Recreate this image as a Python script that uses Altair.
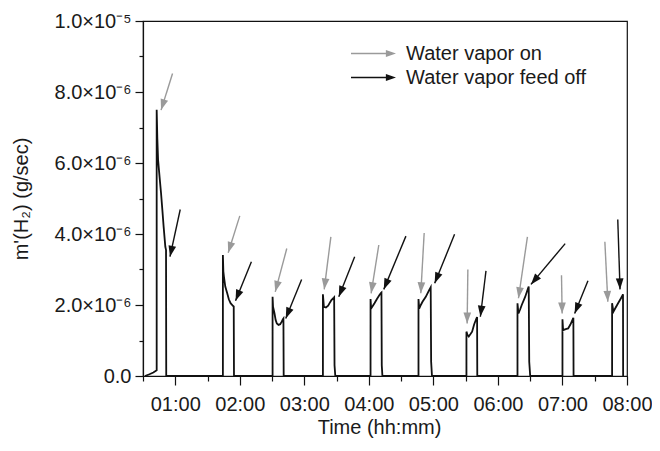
import math
import altair as alt
import pandas as pd

# ---- hydrogen production rate trace (time in hours, rate in 1e-6 g/sec) ----
time_h = [
    0.53, 0.60, 0.66, 0.712, 0.712, 0.722, 0.734, 0.757, 0.780, 0.800, 0.820, 0.846, 0.857, 0.860,
    1.738, 1.738, 1.745, 1.754, 1.775, 1.805, 1.830, 1.857, 1.897, 1.906, 1.910,
    2.508, 2.508, 2.515, 2.538, 2.555, 2.574, 2.600, 2.626, 2.650, 2.668, 2.676, 2.680,
    3.288, 3.288, 3.303, 3.335, 3.369, 3.400, 3.420, 3.457, 3.462, 3.468, 3.480,
    4.026, 4.026, 4.035, 4.060, 4.087, 4.125, 4.164, 4.189, 4.195, 4.200, 4.210,
    4.769, 4.769, 4.780, 4.805, 4.831, 4.882, 4.934, 4.949, 4.958, 4.965, 4.978,
    5.512, 5.512, 5.530, 5.548, 5.575, 5.600, 5.631, 5.666, 5.677, 5.680,
    6.303, 6.303, 6.318, 6.345, 6.369, 6.420, 6.450, 6.472, 6.477, 6.485, 6.500,
    7.000, 7.000, 7.010, 7.050, 7.088, 7.123, 7.165, 7.169, 7.172,
    7.769, 7.769, 7.789, 7.825, 7.862, 7.900, 7.934, 7.938, 7.940,
]
rate_e6 = [
    0.00, 0.05, 0.10, 0.16, 7.50, 6.70, 6.08, 5.60, 5.14, 4.68, 4.20, 3.64, 3.55, 0.00,
    0.00, 3.41, 2.95, 2.80, 2.52, 2.33, 2.16, 2.05, 1.97, 1.96, 0.00,
    0.00, 2.23, 1.95, 1.76, 1.58, 1.48, 1.44, 1.46, 1.53, 1.60, 1.62, 0.00,
    0.00, 2.30, 1.95, 1.93, 1.98, 2.08, 2.14, 2.21, 2.22, 0.30, 0.00,
    0.00, 2.17, 1.90, 1.97, 2.05, 2.17, 2.28, 2.34, 2.35, 0.30, 0.00,
    0.00, 2.17, 1.90, 2.00, 2.09, 2.23, 2.42, 2.47, 2.50, 0.40, 0.00,
    0.00, 1.25, 1.15, 1.11, 1.18, 1.25, 1.45, 1.62, 1.66, 0.00,
    0.00, 2.05, 1.76, 1.88, 2.00, 2.22, 2.38, 2.50, 2.52, 0.40, 0.00,
    0.00, 1.60, 1.29, 1.32, 1.34, 1.45, 1.62, 1.64, 0.00,
    0.00, 2.05, 1.81, 1.93, 2.05, 2.17, 2.28, 2.30, 0.00,
]

# ---- annotation arrows (tail -> tip), in data units ----
arrow_kind = ["Water vapor on", "Water vapor feed off"] * 10
tail_t = [0.958, 1.077, 2.000, 2.180, 2.728, 2.958, 3.411, 3.780, 4.154, 4.574,
          4.857, 5.328, 5.534, 5.815, 6.457, 7.042, 6.985, 7.395, 7.657, 7.857]
tail_v = [8.52, 4.69, 4.51, 3.22, 3.59, 2.72, 3.92, 3.36, 3.69, 3.94,
          4.03, 3.99, 3.00, 2.96, 3.92, 3.73, 2.84, 2.68, 3.78, 4.41]
tip_t = [0.780, 0.918, 1.820, 1.934, 2.549, 2.712, 3.308, 3.534, 4.035, 4.231,
         4.805, 5.020, 5.523, 5.728, 6.318, 6.512, 6.995, 7.189, 7.703, 7.892]
tip_v = [7.49, 3.36, 3.47, 2.12, 2.37, 1.62, 2.44, 2.23, 2.33, 2.44,
         2.33, 2.61, 1.48, 1.67, 2.19, 2.58, 1.76, 1.76, 2.09, 2.44]

legend_kinds = ["Water vapor on", "Water vapor feed off"]
legend_colors = ["#9a9a9a", "#111111"]

major_hours = [1, 2, 3, 4, 5, 6, 7, 8]
minor_hours = [0.5, 1.5, 2.5, 3.5, 4.5, 5.5, 6.5, 7.5]
major_rates = [0, 2, 4, 6, 8, 10]
minor_rates = [1, 3, 5, 7, 9]

# ---- layout ----
W, H = 484, 355
X_DOM = [0.5, 8.0]
Y_DOM = [0.0, 10.0]
px_per_h = W / (X_DOM[1] - X_DOM[0])
px_per_v = H / (Y_DOM[1] - Y_DOM[0])
FONT = "Liberation Sans"
INK = "#1a1a1a"

curve = pd.DataFrame({"t": time_h, "v": rate_e6, "i": list(range(len(time_h)))})

angles = []
for a, b, c, d in zip(tail_t, tail_v, tip_t, tip_v):
    dx = (c - a) * px_per_h
    dy = -(d - b) * px_per_v
    angles.append(math.degrees(math.atan2(dx, -dy)) % 360)
arrows = pd.DataFrame({
    "kind": arrow_kind, "t0": tail_t, "v0": tail_v, "t1": tip_t, "v1": tip_v, "ang": angles,
})

xs = alt.Scale(domain=X_DOM, nice=False, zero=False)
ys = alt.Scale(domain=Y_DOM, nice=False, zero=False)
cs = alt.Scale(domain=legend_kinds, range=legend_colors)

x_major = alt.Axis(values=major_hours, labelExpr="'0' + datum.value + ':00'", tickSize=9,
                   labelPadding=9, title="Time (hh:mm)", titlePadding=3, titleX=236,
                   orient="bottom", labelFlush=False)
x_minor = alt.Axis(values=minor_hours, tickSize=5, labels=False, domain=False,
                   title=None, orient="bottom")
y_major = alt.Axis(values=major_rates, tickSize=8, labelPadding=4, orient="left",
                   labelExpr="datum.value == 0 ? '0.0' : (datum.value == 10 ? '1.0\u00d710\u207b\u2075' : format(datum.value, '.1f') + '\u00d710\u207b\u2076')",
                   title="m'(H\u2082) (g/sec)", titlePadding=22)
y_minor = alt.Axis(values=minor_rates, tickSize=4, labels=False, domain=False,
                   title=None, orient="left")

line = alt.Chart(curve).mark_line(color="#111111", strokeWidth=1.8, strokeJoin="miter").encode(
    x=alt.X("t:Q", scale=xs, axis=x_major),
    y=alt.Y("v:Q", scale=ys, axis=y_major),
    order=alt.Order("i:Q"),
)

minor = alt.Chart(curve).mark_point(opacity=0).encode(
    x=alt.X("t:Q", scale=xs, axis=x_minor),
    y=alt.Y("v:Q", scale=ys, axis=y_minor),
)


def shaft_layer(kind, colour):
    return alt.Chart(arrows).transform_filter(
        alt.datum.kind == kind
    ).mark_rule(strokeWidth=1.4, color=colour).encode(
        x=alt.X("t0:Q", scale=xs, axis=None),
        y=alt.Y("v0:Q", scale=ys, axis=None),
        x2="t1:Q",
        y2="v1:Q",
    )


shafts_on = shaft_layer(legend_kinds[0], legend_colors[0])
shafts_off = shaft_layer(legend_kinds[1], legend_colors[1])

ARROW_SYMBOL = "M-2,-0.06L1.1,-0.06L1.1,-0.31L2,0L1.1,0.31L1.1,0.06L-2,0.06Z"
heads = alt.Chart(arrows).mark_point(
    shape="M0,0L-0.7,2L0.7,2Z", size=121, filled=True, opacity=1, strokeWidth=0
).encode(
    x=alt.X("t1:Q", scale=xs, axis=None),
    y=alt.Y("v1:Q", scale=ys, axis=None),
    angle=alt.Angle("ang:Q", scale=None),
    color=alt.Color("kind:N", scale=cs, legend=alt.Legend(
        title=None, orient="none", legendX=219, legendY=21, direction="vertical",
        symbolType=ARROW_SYMBOL, symbolSize=506, symbolStrokeWidth=0, symbolOpacity=1,
        labelFont=FONT, labelFontSize=20, labelColor=INK, labelOffset=21, labelLimit=400,
        rowPadding=2, padding=0,
    )),
)

chart = alt.layer(line, minor, shafts_on, shafts_off, heads).resolve_axis(
    x="independent", y="independent"
).properties(
    width=W, height=H,
    autosize=alt.AutoSizeParams(type="none"),
    padding={"left": 135, "top": 13, "right": 25, "bottom": 63},
).configure(
    font=FONT
).configure_view(
    stroke="#111111", strokeWidth=1.2
).configure_axis(
    grid=False, domainColor="#111111", domainWidth=1.2, tickColor="#111111", tickWidth=1.2,
    labelFont=FONT, labelFontSize=20, labelColor=INK,
    titleFont=FONT, titleFontSize=20, titleFontWeight="normal", titleColor=INK,
)

chart.save("out.html", embed_options={"renderer": "svg", "actions": False})
